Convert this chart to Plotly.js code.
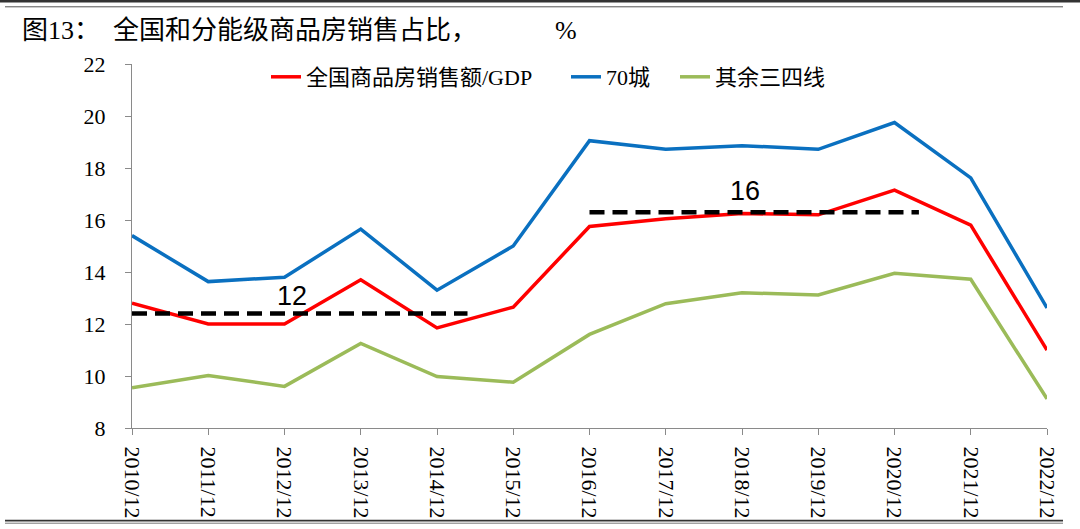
<!DOCTYPE html>
<html>
<head>
<meta charset="utf-8">
<script src="https://cdn.plot.ly/plotly-3.0.1.min.js"></script>
<style>
  html, body { margin: 0; padding: 0; background: #fff; }
  #chart { width: 1080px; height: 529px; }
</style>
</head>
<body>
<div id="chart"></div>
<script>
// ── 全国和分能级商品房销售占比 ──────────────────────────────

const periodos = ['2010/12', '2011/12', '2012/12', '2013/12', '2014/12', '2015/12', '2016/12',
                  '2017/12', '2018/12', '2019/12', '2020/12', '2021/12', '2022/12'];

const nacionalGDP = [12.8, 12.0, 12.0, 13.7, 11.85, 12.65, 15.75, 16.05, 16.25, 16.2, 17.15, 15.8, 11.0];
const ciudades70  = [15.4, 13.63, 13.8, 15.65, 13.3, 15.0, 19.05, 18.72, 18.86, 18.72, 19.75, 17.62, 12.62];
const restoCiud   = [9.55, 10.02, 9.6, 11.25, 9.98, 9.76, 11.6, 12.78, 13.2, 13.12, 13.95, 13.72, 9.12];

// promedios por periodo (línea punteada)
const promNivel  = [12.4, 16.3];
const promDesde  = [0, 6];
const promHasta  = [4.4, 10.32];
const promTexto  = ['12', '16'];

const idx = periodos.map((_, i) => i);

// conversión de píxeles de la imagen a coordenadas "paper"
const M = { l: 132, r: 33, t: 64, b: 101 };
const W = 1080, H = 529;
const PW = W - M.l - M.r, PH = H - M.t - M.b;
const px = x => (x - M.l) / PW;
const py = y => (H - M.b - y) / PH;

const fuenteSerif = 'Liberation Serif, "Times New Roman", "Noto Sans CJK SC", serif';
const fuenteLeyenda = 'Liberation Serif, "Noto Sans CJK SC", sans-serif';

const traces = [
    {
        x: idx, y: nacionalGDP, type: 'scatter', mode: 'lines',
        name: '全国商品房销售额/GDP', legend: 'legend',
        line: { color: '#ff0000', width: 3.5 },
    },
    {
        x: idx, y: ciudades70, type: 'scatter', mode: 'lines',
        name: '70城', legend: 'legend2',
        line: { color: '#0a70c0', width: 3.5 },
    },
    {
        x: idx, y: restoCiud, type: 'scatter', mode: 'lines',
        name: '其余三四线', legend: 'legend3',
        line: { color: '#9bbb59', width: 3.5 },
    },
];

promNivel.forEach((v, i) => {
    traces.push({
        x: [promDesde[i], promHasta[i]], y: [v, v],
        type: 'scatter', mode: 'lines', showlegend: false, hoverinfo: 'skip',
        line: { color: '#000', width: 4.5, dash: '15px,8px' },
    });
});

const leyenda = (x) => ({
    x: x, y: py(77), xanchor: 'left', yanchor: 'middle',
    orientation: 'h', bgcolor: 'rgba(0,0,0,0)', borderwidth: 0,
    itemwidth: 30, font: { family: fuenteLeyenda, size: 22, color: '#000' },
});

const layout = {
    width: W, height: H,
    margin: M,
    paper_bgcolor: '#fff', plot_bgcolor: '#fff',
    showlegend: true,
    legend:  leyenda(px(266)),
    legend2: leyenda(px(566)),
    legend3: leyenda(px(675)),
    xaxis: {
        range: [0, 12], tickvals: idx, ticktext: periodos, tickangle: 90,
        showgrid: false, zeroline: false,
        showline: true, linecolor: '#8a8a8a', linewidth: 1,
        ticks: 'outside', ticklen: 6, tickcolor: '#8a8a8a',
        ticklabelstandoff: 7,
        tickfont: { family: fuenteSerif, size: 22, color: '#000' },
    },
    yaxis: {
        range: [8, 22], dtick: 2,
        showgrid: false, zeroline: false,
        showline: true, linecolor: '#8a8a8a', linewidth: 1,
        ticks: 'outside', ticklen: 6, tickcolor: '#8a8a8a',
        ticklabelstandoff: 15,
        tickfont: { family: fuenteSerif, size: 22, color: '#000' },
    },
    annotations: [
        {
            // espaciado como en el original
            text: '图13：\u2002全国和分能级商品房销售占比，\u2003\u2003\u2003%',
            xref: 'paper', yref: 'paper', x: px(20), y: py(30),
            xanchor: 'left', yanchor: 'middle', showarrow: false,
            font: { family: fuenteSerif, size: 26, color: '#000' },
        },
        ...promTexto.map((t, i) => ({
            text: t, x: i === 0 ? 2.1 : 8.04, y: i === 0 ? 13.08 : 17.12,
            xref: 'x', yref: 'y', showarrow: false,
            font: { family: 'Liberation Sans, Arial, sans-serif', size: 27, color: '#000' },
        })),
    ],
    shapes: [
        { type: 'line', xref: 'paper', yref: 'paper', x0: px(0), x1: px(1080), y0: py(1.2), y1: py(1.2),
          line: { color: '#333', width: 2.5 } },
        { type: 'line', xref: 'paper', yref: 'paper', x0: px(5), x1: px(1063), y0: py(6.8), y1: py(6.8),
          line: { color: '#555', width: 1 } },
        { type: 'line', xref: 'paper', yref: 'paper', x0: px(5), x1: px(1063), y0: py(520.6), y1: py(520.6),
          line: { color: '#333', width: 1.6 } },
        { type: 'line', xref: 'paper', yref: 'paper', x0: px(5), x1: px(1063), y0: py(523.2), y1: py(523.2),
          line: { color: '#777', width: 1 } },
    ],
};

Plotly.newPlot('chart', traces, layout, { staticPlot: true, displayModeBar: false });
</script>
</body>
</html>
